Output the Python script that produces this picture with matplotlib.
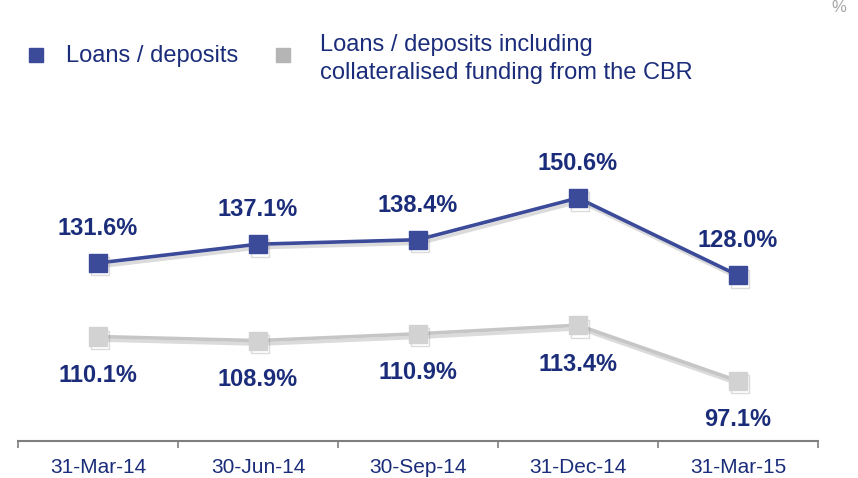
import matplotlib
matplotlib.use('Agg')
import matplotlib.pyplot as plt
import matplotlib.patheffects as pe
import numpy as np

# data
dates = ['31-Mar-14', '30-Jun-14', '30-Sep-14', '31-Dec-14', '31-Mar-15']
loans_deposits = [131.6, 137.1, 138.4, 150.6, 128.0]
loans_deposits_cbr = [110.1, 108.9, 110.9, 113.4, 97.1]

navy = '#3B4A99'
text_navy = '#1B2D7A'
light_gray = '#D2D2D2'
line_gray = '#C6C6C6'

plt.rcParams['font.family'] = ['Liberation Sans', 'DejaVu Sans']

fig = plt.figure(figsize=(8.58, 4.78), dpi=100)
ax = fig.add_axes([18 / 858, 37 / 478, 800 / 858, 341 / 478])

x = np.arange(len(dates))
shadow = [pe.SimpleLineShadow(offset=(1.5, -2.5), shadow_color='#888888', alpha=0.3), pe.Normal()]

ax.plot(x, loans_deposits_cbr, color=line_gray, lw=2.6, marker='s', ms=13,
        mfc=light_gray, mec=light_gray, path_effects=shadow, zorder=3)
ax.plot(x, loans_deposits, color=navy, lw=2.6, marker='s', ms=13,
        mfc=navy, mec=navy, path_effects=shadow, zorder=4)

for xi, v in zip(x, loans_deposits):
    ax.annotate(f'{v:.1f}%', (xi, v), xytext=(0, 25), textcoords='offset points',
                ha='center', va='center', fontsize=17, fontweight='bold', color=text_navy)
for xi, v in zip(x, loans_deposits_cbr):
    ax.annotate(f'{v:.1f}%', (xi, v), xytext=(0, -28), textcoords='offset points',
                ha='center', va='center', fontsize=17, fontweight='bold', color=text_navy)

ax.set_xlim(-0.5, 4.5)
ax.set_ylim(79.55, 179.26)
ax.set_yticks([])
ax.set_xticks(np.arange(-0.5, 5, 1))
ax.set_xticklabels([])
ax.set_xticks(x, minor=True)
ax.set_xticklabels(dates, minor=True, fontsize=15, color=text_navy)
ax.tick_params(axis='x', which='major', length=5, width=1.2, color='#7F7F7F', direction='out')
ax.tick_params(axis='x', which='minor', length=0, pad=12)
for s in ['top', 'right', 'left']:
    ax.spines[s].set_visible(False)
ax.spines['bottom'].set_color('#7F7F7F')
ax.spines['bottom'].set_linewidth(1.5)

# legend drawn by hand to match the two-line layout
fig.patches.append(plt.Rectangle((29 / 858, 1 - 62 / 478), 14 / 858, 14 / 478,
                                 transform=fig.transFigure, color=navy))
fig.text(66 / 858, 1 - 56 / 478, 'Loans / deposits', fontsize=17, color=text_navy,
         va='center', ha='left')
fig.patches.append(plt.Rectangle((276 / 858, 1 - 62 / 478), 14 / 858, 14 / 478,
                                 transform=fig.transFigure, color='#B5B5B5'))
fig.text(320 / 858, 1 - 59 / 478, 'Loans / deposits including\ncollateralised funding from the CBR',
         fontsize=17, color=text_navy, va='center', ha='left', linespacing=1.38)

fig.text(846 / 858, 1 - 7 / 478, '%', fontsize=12, color='#A6A6A6', ha='right', va='center')

fig.savefig('out.png', dpi=100)
